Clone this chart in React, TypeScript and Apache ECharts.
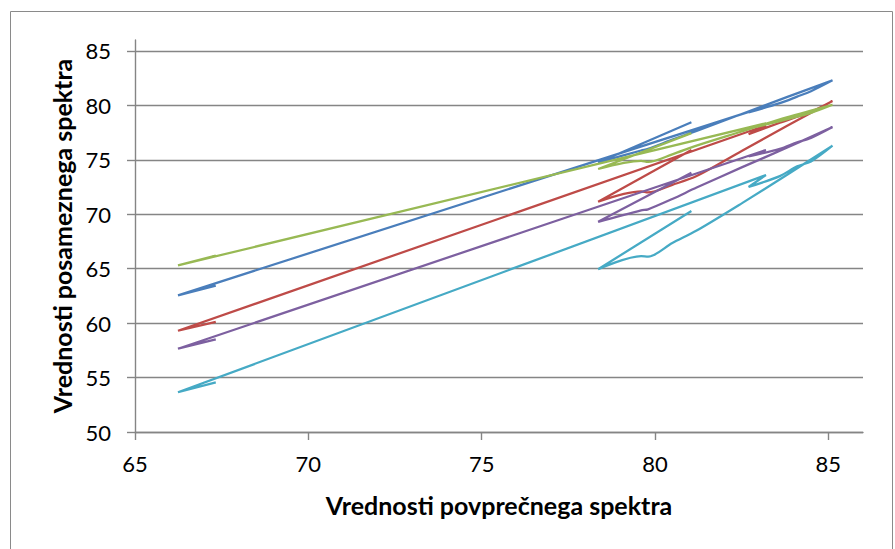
import React, { useEffect, useRef } from "react";
import * as echarts from "echarts";

// Average-spectrum values (shared x for all series, in wavelength order)
const avgX = [67.33, 66.24, 83.2, 82.7, 83.6, 84.1, 84.5, 85.12, 83.8, 82.5, 81.2, 80.5, 79.8, 79.6, 78.36, 81.05];

// Individual spectra
const blueY = [63.45, 62.55, 79.9, 79.35, 80.2, 80.8, 81.3, 82.3, 80.75, 79.2, 77.65, 76.85, 76.0, 75.85, 74.75, 78.45];
const redY = [60.12, 59.3, 78.15, 77.35, 78.4, 78.95, 79.4, 80.4, 78.1, 75.8, 73.5, 72.7, 72.0, 72.1, 71.15, 75.9];
const greenY = [66.2, 65.3, 78.35, 77.85, 78.55, 78.95, 79.3, 80.05, 78.9, 77.6, 76.3, 75.5, 74.8, 74.9, 74.15, 77.45];
const purpleY = [58.5, 57.65, 75.9, 75.3, 76.0, 76.6, 77.0, 78.0, 76.1, 74.3, 72.45, 71.4, 70.45, 70.35, 69.3, 73.8];
const cyanY = [54.55, 53.65, 73.6, 72.5, 73.5, 74.4, 74.85, 76.3, 73.6, 71.0, 68.5, 67.35, 66.1, 66.15, 64.95, 70.3];

const xTicks = [65, 70, 75, 80, 85];
const yTicks = [50, 55, 60, 65, 70, 75, 80, 85];

const seriesDefs = [
  { name: "S1", ys: blueY, color: "#4A7EBB" },
  { name: "S2", ys: redY, color: "#BE4B48" },
  { name: "S3", ys: greenY, color: "#98B954" },
  { name: "S4", ys: purpleY, color: "#7D60A0" },
  { name: "S5", ys: cyanY, color: "#46AAC5" },
];

const FONT = "Lato";

export default function App() {
  const ref = useRef<HTMLDivElement>(null);
  useEffect(() => {
    document.body.style.margin = "0";
    const chart = echarts.init(ref.current!, null, { renderer: "svg" });
    const gray = "#858585";
    chart.setOption({
      animation: false,
      backgroundColor: "#ffffff",
      grid: { left: 135, right: 32, top: 40, bottom: 117 },
      graphic: [
        {
          type: "rect",
          shape: { x: 10.5, y: 11.5, width: 882, height: 600 },
          style: { fill: "none", stroke: "#8a8a8a", lineWidth: 1 },
          silent: true,
        },
      ],
      xAxis: {
        type: "value",
        min: 65,
        max: 86,
        interval: 5,
        name: "Vrednosti povprečnega spektra",
        nameLocation: "middle",
        nameGap: 60,
        nameTextStyle: { fontFamily: FONT, fontWeight: "bold", fontSize: 25, color: "#000" },
        axisLine: { show: true, lineStyle: { color: gray, width: 1.4 } },
        axisTick: { show: true, length: 8, customValues: xTicks, lineStyle: { color: gray, width: 1.4 } },
        axisLabel: { customValues: xTicks, margin: 20, fontFamily: FONT, fontSize: 22, color: "#000" },
        splitLine: { show: false },
      },
      yAxis: {
        type: "value",
        min: 50,
        max: 86,
        interval: 5,
        name: "Vrednosti posameznega spektra",
        nameLocation: "middle",
        nameGap: 59,
        nameTextStyle: { fontFamily: FONT, fontWeight: "bold", fontSize: 25, color: "#000" },
        axisLine: { show: true, lineStyle: { color: gray, width: 1.4 } },
        axisTick: { show: true, length: 8, customValues: yTicks, lineStyle: { color: gray, width: 1.4 } },
        axisLabel: { customValues: yTicks, margin: 24, fontFamily: FONT, fontSize: 22, color: "#000" },
        splitLine: { show: true, lineStyle: { color: gray, width: 1.4 } },
      },
      series: seriesDefs.map((s) => ({
        name: s.name,
        type: "line",
        smooth: 0.3,
        showSymbol: false,
        symbol: "none",
        data: avgX.map((x, i) => [x, s.ys[i]]),
        lineStyle: { color: s.color, width: 2.25 },
        itemStyle: { color: s.color },
      })),
    });
    return () => chart.dispose();
  }, []);
  return <div ref={ref} style={{ width: 895, height: 549 }} />;
}
